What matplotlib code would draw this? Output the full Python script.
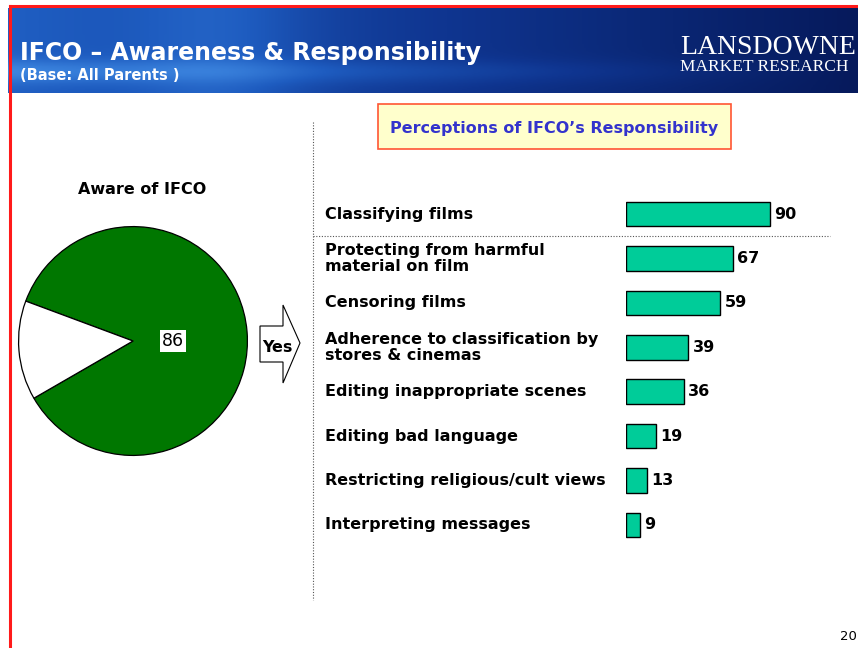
import numpy as np
import matplotlib
matplotlib.use("Agg")
import matplotlib.pyplot as plt
from matplotlib.patches import Rectangle, Polygon
from matplotlib.colors import LinearSegmentedColormap

# ---- data ----
pie_labels = ["Yes", "No"]
pie_values = [86, 14]
categories = [
    "Classifying films",
    "Protecting from harmful\nmaterial on film",
    "Censoring films",
    "Adherence to classification by\nstores & cinemas",
    "Editing inappropriate scenes",
    "Editing bad language",
    "Restricting religious/cult views",
    "Interpreting messages",
]
values = [90, 67, 59, 39, 36, 19, 13, 9]

W, H = 858, 648
fig = plt.figure(figsize=(W / 100, H / 100), dpi=100)
fig.patch.set_facecolor("white")

def fx(x):
    return x / W

def fy(y):
    return 1 - y / H

# ---- banner ----
bax = fig.add_axes([fx(8), fy(93), fx(858 - 8), (93 - 8) / H])
bax.set_axis_off()
gx = np.linspace(0, 1, 400)
gy = np.linspace(0, 1, 60)
GX, GY = np.meshgrid(gx, gy)
field = 0.55 * (1 - GX) + 0.25 * np.exp(-((GY - 0.75) ** 2) / 0.02) * (1 - GX) + 0.15 * np.exp(-((GX - 0.25) ** 2) / 0.01)
cmap = LinearSegmentedColormap.from_list("banner", ["#061a5c", "#0f3590", "#1e5cc0", "#3d86e0"])
bax.imshow(field, cmap=cmap, aspect="auto", extent=[0, 1, 0, 1], origin="upper")
bax.set_xlim(0, 1)
bax.set_ylim(0, 1)

fig.text(fx(20), fy(53), "IFCO \u2013 Awareness & Responsibility", color="white",
         fontsize=17, fontweight="bold", ha="left", va="center")
fig.text(fx(20), fy(75), "(Base: All Parents )", color="white",
         fontsize=10.5, fontweight="bold", ha="left", va="center")
fig.text(fx(680), fy(47), "LANSDOWNE", color="white", fontsize=20,
         family="Liberation Serif", ha="left", va="center")
fig.text(fx(680), fy(67), "MARKET RESEARCH", color="white", fontsize=12.5,
         family="Liberation Serif", ha="left", va="center")

# red frame
fig.add_artist(plt.Line2D([fx(10), fx(10)], [fy(6), 0], color="#ff1a1a", lw=2.2))
fig.add_artist(plt.Line2D([fx(10), 1], [fy(6), fy(6)], color="#ff1a1a", lw=2.2))

# ---- pie ----
R = 115
pax = fig.add_axes([fx(133 - R), fy(341 + R), 2 * R / W, 2 * R / H])
pax.pie(pie_values, colors=["#007700", "white"], startangle=210, counterclock=True,
        wedgeprops=dict(edgecolor="black", linewidth=0.9))
pax.set_xlim(-1.005, 1.005)
pax.set_ylim(-1.005, 1.005)
pax.text(0.35, 0.0, str(pie_values[0]), fontsize=12.5, ha="center", va="center",
         bbox=dict(facecolor="white", edgecolor="none", pad=1.5))
fig.text(fx(142), fy(190), "Aware of IFCO", fontsize=11.5, fontweight="bold",
         ha="center", va="center")

# arrow
arrow_pts = [(260, 326), (283, 326), (283, 305), (300, 343), (283, 383), (283, 362), (260, 362)]
fig.add_artist(Polygon([(fx(x), fy(y)) for x, y in arrow_pts], closed=True,
                       facecolor="white", edgecolor="black", lw=0.8, transform=fig.transFigure))
fig.text(fx(277), fy(347), pie_labels[0], fontsize=11.5, fontweight="bold", ha="center", va="center")

# dotted separators
fig.add_artist(plt.Line2D([fx(313), fx(313)], [fy(122), fy(600)], color="#555555", lw=0.8, ls=(0, (1, 1.5))))
fig.add_artist(plt.Line2D([fx(313), fx(830)], [fy(236), fy(236)], color="#555555", lw=0.8, ls=(0, (1, 1.5))))

# title box
fig.add_artist(Rectangle((fx(378), fy(149)), (731 - 378) / W, (149 - 104) / H,
                         facecolor="#ffffcc", edgecolor="#ff5533", lw=1.2, transform=fig.transFigure))
fig.text(fx(554), fy(129), "Perceptions of IFCO\u2019s Responsibility", color="#3333cc",
         fontsize=11.5, fontweight="bold", ha="center", va="center")

# ---- bars ----
top, bot = 214 - 22.2, 525 + 22.2
ax = fig.add_axes([fx(626), fy(bot), 160 / W, (bot - top) / H])
y = np.arange(len(values))
ax.barh(y, values, height=0.55, color="#00cc99", edgecolor="black", linewidth=1.0)
ax.set_xlim(0, 100)
ax.set_ylim(len(values) - 0.5, -0.5)
ax.set_axis_off()
for i, (c, v) in enumerate(zip(categories, values)):
    ax.text(v + 2.5, i, str(v), fontsize=11.5, fontweight="bold", ha="left", va="center")
    ax.text(-(626 - 325) / 1.6, i, c, fontsize=11.5, fontweight="bold", ha="left",
            va="center", linespacing=1.1, clip_on=False)

fig.text(fx(840), fy(636), "20", fontsize=9.5, ha="left", va="center")

fig.savefig("out.png", dpi=100)
